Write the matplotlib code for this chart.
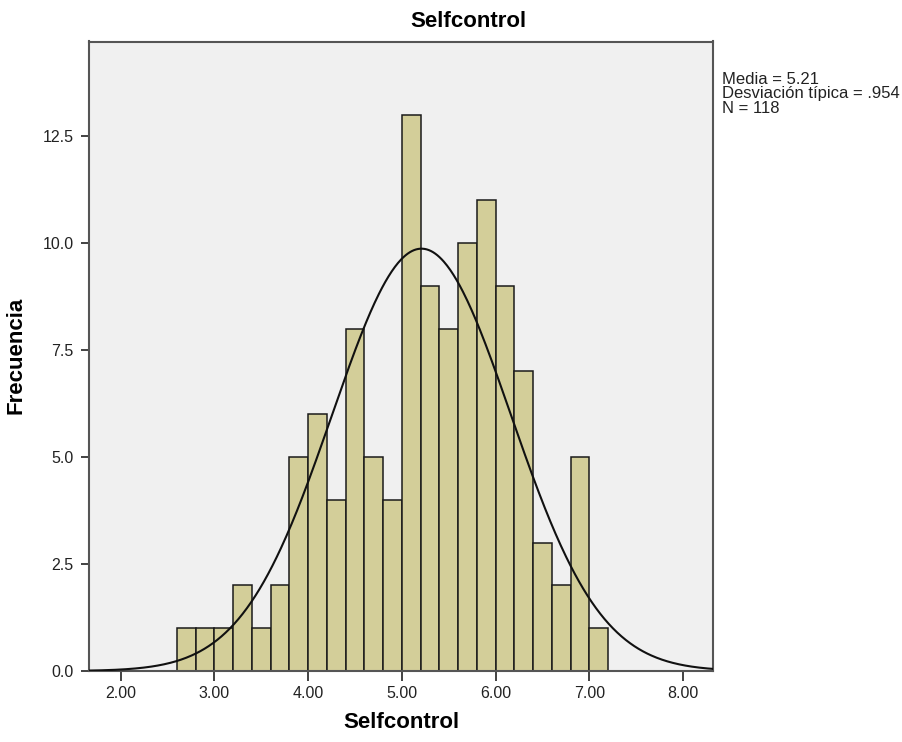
import numpy as np
import matplotlib
matplotlib.use("Agg")
import matplotlib.pyplot as plt

plt.rcParams['font.family'] = ['Liberation Sans', 'DejaVu Sans']

# Data
bin_edges_start = 2.6
bin_width = 0.2
counts = [1, 1, 1, 2, 1, 2, 5, 6, 4, 8, 5, 4, 13, 9, 8, 10, 11, 9, 7, 3, 2, 5, 1]
mean = 5.21
sd = 0.954
n = 118
x_ticks = [2.0, 3.0, 4.0, 5.0, 6.0, 7.0, 8.0]
y_ticks = [0.0, 2.5, 5.0, 7.5, 10.0, 12.5]

fig = plt.figure(figsize=(9.03, 7.42), dpi=100)
ax = fig.add_axes([89/903, 71/742, (713-89)/903, (671-41.5)/742])
ax.set_facecolor('#f0f0f0')

lefts = bin_edges_start + bin_width * np.arange(len(counts))
ax.bar(lefts, counts, width=bin_width, align='edge', color='#d3ce99',
       edgecolor='#1a1a1a', linewidth=1.1, zorder=2)

xs = np.linspace(1.6, 8.4, 600)
ys = n * bin_width / (sd * np.sqrt(2 * np.pi)) * np.exp(-0.5 * ((xs - mean) / sd) ** 2)
ax.plot(xs, ys, color='#111111', linewidth=1.5, zorder=3)

ax.set_xlim(1.663, 8.32)
ax.set_ylim(0, 14.71)
ax.set_xticks(x_ticks)
ax.set_xticklabels([f"{t:.2f}" for t in x_ticks], fontsize=11.5)
ax.set_yticks(y_ticks)
ax.set_yticklabels([f"{t:.1f}" for t in y_ticks], fontsize=11.5)
ax.tick_params(axis='x', direction='out', length=7, width=1.2, color='#222222', labelcolor='#222222', pad=4)
ax.tick_params(axis='y', direction='out', length=6, width=1.2, color='#222222', labelcolor='#222222', pad=5)

for s in ax.spines.values():
    s.set_color('#555555')
    s.set_linewidth(1.5)

ax.set_xlabel('Selfcontrol', fontsize=16, fontweight='bold', labelpad=8)
fig.text(16/903, 1 - 355/742, 'Frecuencia', rotation=90, fontsize=16, fontweight='bold',
         ha='center', va='center')
fig.text(468/903, 1 - 27/742, 'Selfcontrol', fontsize=16, fontweight='bold',
         ha='center', va='baseline')

fig.text(722/903, 1 - 72/742, f"Media = {mean:.2f}\nDesviación típica = .954\nN = {n}",
         fontsize=12, ha='left', va='top', color='#222222', linespacing=0.95)

fig.savefig('out.png', dpi=100)
